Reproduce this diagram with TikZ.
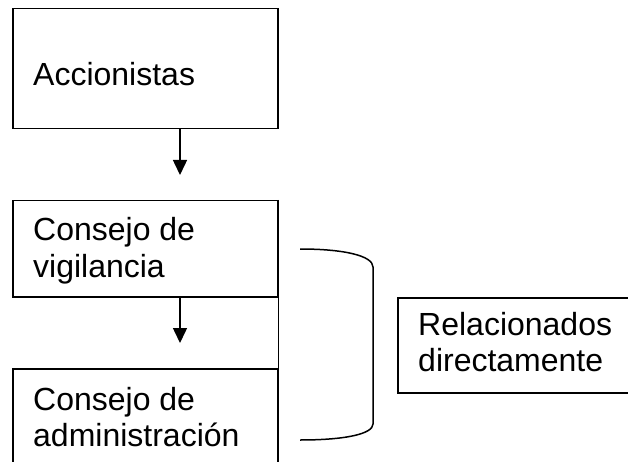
\documentclass[tikz,border=0pt]{standalone}
\usepackage{fontspec}
\setmainfont{Liberation Sans}
\usetikzlibrary{arrows.meta}
\begin{document}
\begin{tikzpicture}[x=1pt,y=-1pt,
  boxnode/.style={draw=black,line width=1.5pt,rectangle,inner sep=0pt,anchor=north west},
  lbl/.style={anchor=base west,inner sep=0pt,font=\fontsize{32}{36.8}\selectfont},
  conn/.style={line width=1.5pt,-{Triangle[length=15pt,width=14pt]}},
  ln/.style={line width=1.5pt}]
\useasboundingbox (0,0) rectangle (628,462);
\fill[white] (0,0) rectangle (628,462);
\clip (0,0) rectangle (628,462);
% boxes
\node[boxnode,minimum width=265pt,minimum height=120pt] (b1) at (12,8) {};
\node[boxnode,minimum width=265pt,minimum height=96pt] (b2) at (12,200) {};
\node[boxnode,minimum width=265pt,minimum height=130pt] (b3) at (12,368) {};
\node[boxnode,minimum width=260pt,minimum height=95pt] (b4) at (397,297) {};
% texts
\node[lbl] (t1) at (33,86) {Accionistas};
\node[lbl] (t2a) at (33,240) {Consejo de};
\node[lbl] (t2b) at (33,277) {vigilancia};
\node[lbl] (t3a) at (33,410) {Consejo de};
\node[lbl] (t3b) at (33,446) {administración};
\node[lbl] (t4a) at (418,335) {Relacionados};
\node[lbl] (t4b) at (418,371) {directamente};
% arrows
\coordinate (a1e) at (180,175);
\coordinate (a2e) at (180,343);
\draw[conn] (b1.south -| a1e) -- (a1e);
\draw[conn] (b2.south -| a2e) -- (a2e);
% right side line
\coordinate (vend) at (276,417);
\draw[ln] (b2.north east) -- (b2.north east |- vend);
% bracket
\draw[ln] (300,249) .. controls (345,249) and (373,256) .. (373,267)
  -- (373,424) .. controls (373,434) and (345,440) .. (300,440);
\end{tikzpicture}
\end{document}
